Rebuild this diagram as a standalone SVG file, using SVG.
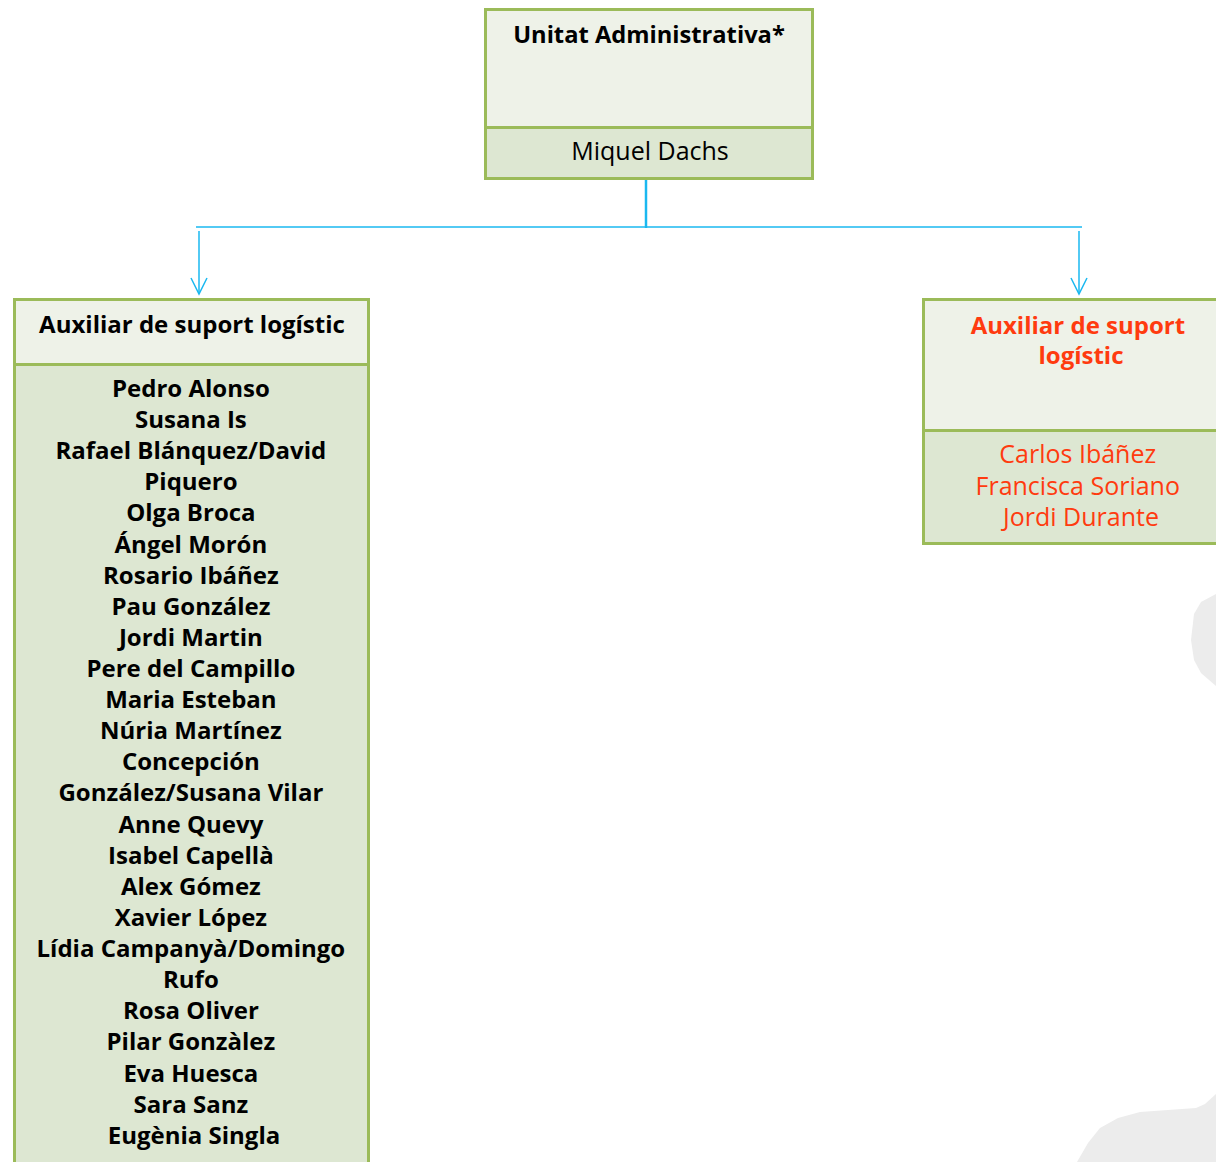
<svg xmlns="http://www.w3.org/2000/svg" width="1216" height="1162" viewBox="0 0 1216 1162">
<defs>
<style>
.hdr{fill:#eef2e8;stroke:#9bbb59;stroke-width:3}
.bdy{fill:#dde7d2;stroke:#9bbb59;stroke-width:3}
text{font-family:"Open Sans","Noto Sans","Liberation Sans",sans-serif;font-size:25px;text-anchor:middle;fill:#000}
.b{font-weight:bold;font-size:24px}
.t{font-size:23.7px}
.red{fill:#ff3b0f}
.conn{stroke:#1ab8f0;fill:none}
.blob{fill:#ececec}
</style>
<marker id="arr" markerWidth="20" markerHeight="20" refX="17" refY="10" orient="auto" markerUnits="userSpaceOnUse" viewBox="0 0 20 20">
<path d="M1,2 L17,10 L1,18" fill="none" stroke="#1ab8f0" stroke-width="1.5"/>
</marker>
</defs>
<g id="background">
<path class="blob" d="M1216,594 L1201,602 L1194,614 L1191,640 L1194,660 L1201,673 L1216,686 Z"/>
<path class="blob" d="M1216,1094 L1205,1104 L1196,1108 L1140,1112 L1118,1118 L1100,1128 L1088,1143 L1077,1162 L1216,1162 Z"/>
</g>
<g id="connectors">
<line class="conn" x1="646" y1="179" x2="646" y2="228" stroke-width="2.5"/>
<line class="conn" x1="196" y1="227" x2="1082" y2="227" stroke-width="1.5"/>
<line class="conn" x1="199" y1="231" x2="199" y2="294" stroke-width="1.5" marker-end="url(#arr)"/>
<line class="conn" x1="1079" y1="231" x2="1079" y2="294" stroke-width="1.5" marker-end="url(#arr)"/>
</g>
<g id="node-unitat">
<rect class="hdr" x="485.5" y="9.5" width="327" height="118"/>
<rect class="bdy" x="485.5" y="127.5" width="327" height="51"/>
<text class="b t" x="649" y="43">Unitat Administrativa*</text>
<text x="650" y="160">Miquel Dachs</text>
</g>
<g id="node-auxiliar-left">
<rect class="hdr" x="14.5" y="299.5" width="354" height="65"/>
<rect class="bdy" x="14.5" y="364.5" width="354" height="810"/>
<text class="b" x="192" y="333">Auxiliar de suport logístic</text>
<text class="b" x="194">
<tspan x="194" y="397">Pedro Alonso</tspan>
<tspan x="194" y="428">Susana Is</tspan>
<tspan x="194" y="459">Rafael Blánquez/David</tspan>
<tspan x="194" y="490">Piquero</tspan>
<tspan x="194" y="521">Olga Broca</tspan>
<tspan x="194" y="553">Ángel Morón</tspan>
<tspan x="194" y="584">Rosario Ibáñez</tspan>
<tspan x="194" y="615">Pau González</tspan>
<tspan x="194" y="646">Jordi Martin</tspan>
<tspan x="194" y="677">Pere del Campillo</tspan>
<tspan x="194" y="708">Maria Esteban</tspan>
<tspan x="194" y="739">Núria Martínez</tspan>
<tspan x="194" y="770">Concepción</tspan>
<tspan x="194" y="801">González/Susana Vilar</tspan>
<tspan x="194" y="833">Anne Quevy</tspan>
<tspan x="194" y="864">Isabel Capellà</tspan>
<tspan x="194" y="895">Alex Gómez</tspan>
<tspan x="194" y="926">Xavier López</tspan>
<tspan x="194" y="957">Lídia Campanyà/Domingo</tspan>
<tspan x="194" y="988">Rufo</tspan>
<tspan x="194" y="1019">Rosa Oliver</tspan>
<tspan x="194" y="1050">Pilar Gonzàlez</tspan>
<tspan x="194" y="1082">Eva Huesca</tspan>
<tspan x="194" y="1113">Sara Sanz</tspan>
<tspan x="194" y="1144">Eugènia Singla</tspan>
</text>
</g>
<g id="node-auxiliar-right">
<rect class="hdr" x="923.5" y="299.5" width="310" height="131"/>
<rect class="bdy" x="923.5" y="430.5" width="310" height="113"/>
<text class="b red" x="1081">
<tspan x="1081" y="334">Auxiliar de suport</tspan>
<tspan x="1081" y="364">logístic</tspan>
</text>
<text class="red" x="1081">
<tspan x="1081" y="463">Carlos Ibáñez</tspan>
<tspan x="1081" y="495">Francisca Soriano</tspan>
<tspan x="1081" y="526">Jordi Durante</tspan>
</text>
</g>
</svg>
